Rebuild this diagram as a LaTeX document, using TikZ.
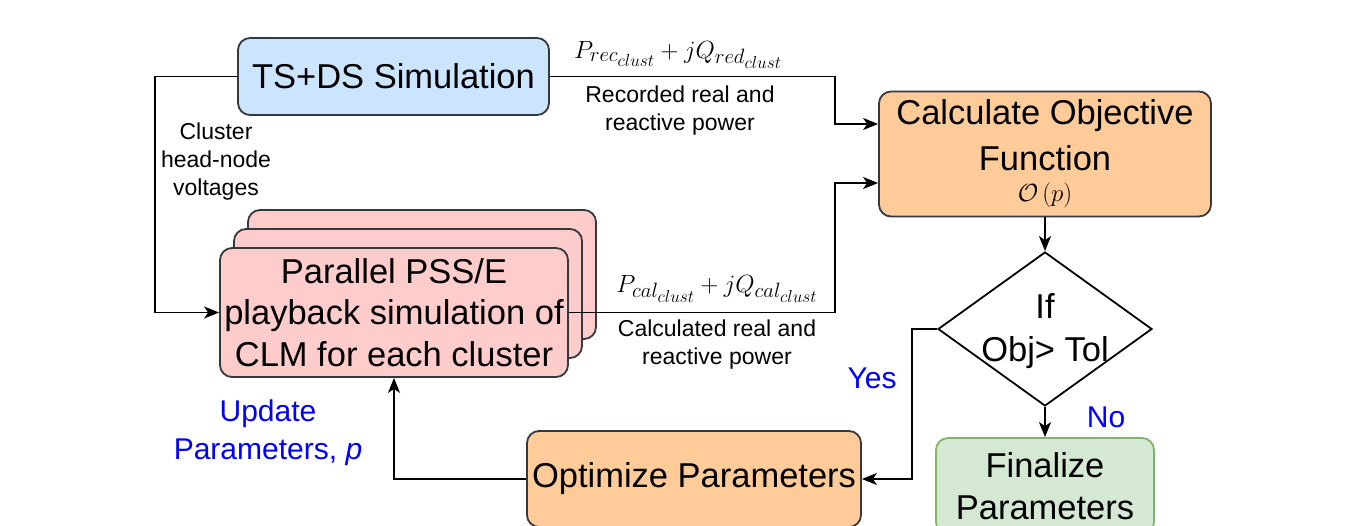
\documentclass[tikz,border=0pt]{standalone}
\usepackage{fontspec}
\setmainfont{Liberation Sans}
\usepackage{amsmath}
\usetikzlibrary{arrows.meta}
\usetikzlibrary{shapes.geometric}
\usetikzlibrary{positioning}
\definecolor{mgray}{rgb}{0.21, 0.22, 0.24}
\definecolor{mblue}{rgb}{0, 0, 1}
\definecolor{tsfill}{HTML}{CCE5FF}
\definecolor{clmfill}{HTML}{FFCCCC}
\definecolor{objfill}{HTML}{FFCC99}
\definecolor{finfill}{HTML}{D5E8D4}
\definecolor{findraw}{HTML}{82B366}
\tikzset{blk/.style = {draw=mgray, line width=1.8pt, rounded corners=12pt,
                       align=center, inner sep=0, font=\fontsize{34.5}{41.5}\selectfont}}
\tikzset{flow/.style = {line width=1.8pt,
                        -{Stealth[length=15pt, width=12pt, inset=4pt]}}}
\tikzset{lbl/.style = {align=center, font=\fontsize{23}{28}\selectfont}}
\tikzset{eq/.style = {font=\fontsize{32.5}{32.5}\selectfont}}
\tikzset{ans/.style = {text=mblue, align=center, font=\fontsize{30}{38}\selectfont}}

\begin{document}
\begin{tikzpicture}[x=1pt, y=-1pt]
  \useasboundingbox (0,0) rectangle (1359,525);

  \node [blk, fill=tsfill, minimum width=311pt, minimum height=77pt] (ts) at (393.5, 76.5) {TS+DS Simulation};

  \foreach \i/\x/\y in {2/422/274.5, 1/408/293.5} {
    \node [blk, fill=clmfill, minimum width=348pt, minimum height=129pt] (clm\i) at (\x, \y) {};
  }
  \node [blk, fill=clmfill, minimum width=348pt, minimum height=129pt] (clm) at (394, 312.5)
        {Parallel PSS/E\\playback simulation of\\CLM for each cluster};

  \node [blk, fill=objfill, minimum width=332pt, minimum height=125pt,
         font=\fontsize{34.5}{46}\selectfont] (obj) at (1045, 154)
        {Calculate Objective\\Function\\[-15pt]{\fontsize{26}{26}\selectfont$\mathcal{O}\left(p\right)$}};
  \node [draw=black, line width=1.8pt, diamond, inner sep=0,
         minimum width=214pt, minimum height=154pt] (tol) at (1045, 329) {};
  \node [align=center, font=\fontsize{34.5}{43}\selectfont] (toltxt) at (1045, 331) {If\\Obj> Tol};
  \node [blk, draw=findraw, fill=finfill, minimum width=218pt, minimum height=96pt] (fin) at (1045, 486)
        {Finalize\\Parameters};
  \node [blk, fill=objfill, minimum width=334pt, minimum height=96pt] (opt) at (694, 479) {Optimize Parameters};

  \coordinate (vbend) at (155, 76.5);
  \coordinate (recbend) at (835, 76.5);
  \coordinate (calbend) at (835, 312.5);
  \coordinate (yesbend) at (912, 329);

  \draw [flow] (ts.west) -- (vbend) |- (clm.west);
  \draw [flow] (ts.east) -- (recbend) |- ([yshift=30pt]obj.west);
  \draw [flow] (clm.east) -- (calbend) |- ([yshift=-29pt]obj.west);
  \draw [flow] (obj.south) -- (tol.north);
  \draw [flow] (tol.south) -- (fin.north);
  \draw [flow] (tol.west) -- (yesbend) |- (opt.east);
  \draw [flow] (opt.west) -| (clm.south);

  \node [lbl] (volt) at (216, 162) {Cluster\\head-node\\voltages};
  \node [eq] (recpq) at (678, 55) {$P_{rec_{clust}} + jQ_{red_{clust}}$};
  \node [lbl] (rectxt) at (680, 111) {Recorded real and\\reactive power};
  \node [eq] (calpq) at (717, 289) {$P_{cal_{clust}} + jQ_{cal_{clust}}$};
  \node [lbl] (caltxt) at (717, 345) {Calculated real and\\reactive power};
  \node [ans] (yes) at (872, 378) {Yes};
  \node [ans] (no) at (1106, 417) {No};
  \node [ans] (upd) at (268, 433) {Update\\Parameters, \textit{p}};
\end{tikzpicture}
\end{document}
